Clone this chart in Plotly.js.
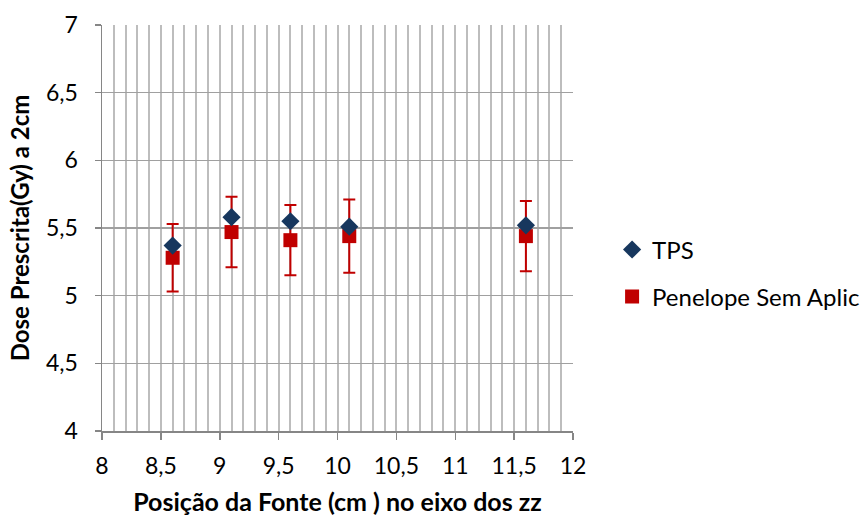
<!DOCTYPE html>
<html>
<head>
<meta charset="utf-8">
<script src="https://cdn.plot.ly/plotly-3.0.1.min.js"></script>
<style>html,body{margin:0;padding:0;background:#fff;}#chart{width:864px;height:516px;}</style>
</head>
<body>
<div id="chart"></div>
<script>
const positions = [8.6, 9.1, 9.6, 10.1, 11.6];
const tpsDose = [5.37, 5.58, 5.55, 5.51, 5.52];
const penelopeDose = [5.28, 5.47, 5.41, 5.44, 5.44];
const penelopeErr = [0.25, 0.26, 0.26, 0.27, 0.26];
const xTickVals = [8, 8.5, 9, 9.5, 10, 10.5, 11, 11.5, 12];
const xTickText = ['8', '8,5', '9', '9,5', '10', '10,5', '11', '11,5', '12'];
const yTickVals = [4, 4.5, 5, 5.5, 6, 6.5, 7];
const yTickText = ['4', '4,5', '5', '5,5', '6', '6,5', '7'];
const seriesNames = ['TPS', 'Penelope Sem Aplic'];

const FONT = 'Lato, "Open Sans", sans-serif';

const traces = [
  {
    x: positions, y: penelopeDose, name: seriesNames[1], type: 'scatter', mode: 'markers',
    marker: {symbol: 'square', size: 14, color: '#C00000'},
    error_y: {type: 'data', array: penelopeErr, visible: true, color: '#C00000', thickness: 2, width: 6},
    legend: 'legend2'
  },
  {
    x: positions, y: tpsDose, name: seriesNames[0], type: 'scatter', mode: 'markers',
    marker: {symbol: 'diamond', size: 14, color: '#17375E'},
    legend: 'legend'
  }
];

const layout = {
  width: 864, height: 516,
  margin: {l: 102, r: 291, t: 25, b: 85, autoexpand: false},
  paper_bgcolor: '#fff', plot_bgcolor: '#fff',
  font: {family: FONT, size: 23, color: '#000'},
  showlegend: true,
  xaxis: {
    range: [8, 12], tickvals: xTickVals, ticktext: xTickText,
    tickfont: {family: FONT, size: 23, color: '#000'},
    showgrid: true, gridcolor: '#BDBDBD', gridwidth: 2,
    minor: {dtick: 0.1, tick0: 8, showgrid: true, gridcolor: '#BDBDBD', gridwidth: 2, ticks: ''},
    ticks: 'outside', ticklen: 7, tickcolor: '#868686', tickwidth: 1.5,
    showline: true, linecolor: '#868686', linewidth: 1.5,
    zeroline: false, fixedrange: true, automargin: false,
    ticklabelstandoff: 7,
    title: {text: '<b>Posição da Fonte (cm ) no eixo dos zz</b>', font: {family: FONT, size: 25, color: '#000'}, standoff: 16}
  },
  yaxis: {
    range: [4, 7], tickvals: yTickVals, ticktext: yTickText,
    tickfont: {family: FONT, size: 23, color: '#000'},
    showgrid: true, gridcolor: '#A0A0A0', gridwidth: 1.5,
    ticks: 'outside', ticklen: 6, tickcolor: '#868686', tickwidth: 1.5,
    showline: true, linecolor: '#868686', linewidth: 1.5,
    zeroline: false, fixedrange: true, automargin: false,
    ticklabelstandoff: 12,
    title: {text: '<b>Dose Prescrita(Gy) a 2cm</b>', font: {family: FONT, size: 24, color: '#000'}, standoff: 9}
  },
  legend: {x: 1.083, y: 0.446, xanchor: 'left', yanchor: 'middle', font: {family: FONT, size: 24}, bgcolor: 'rgba(0,0,0,0)'},
  legend2: {x: 1.083, y: 0.33, xanchor: 'left', yanchor: 'middle', font: {family: FONT, size: 24}, bgcolor: 'rgba(0,0,0,0)'}
};

Plotly.newPlot('chart', traces, layout, {displayModeBar: false, staticPlot: true});
</script>
</body>
</html>
